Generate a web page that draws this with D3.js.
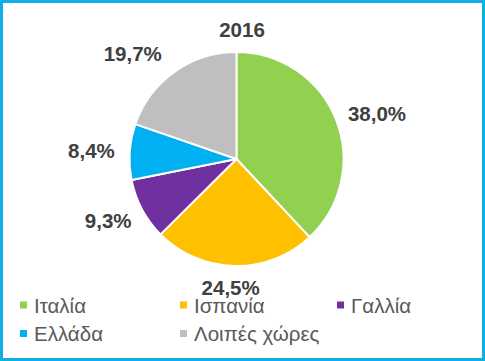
<!DOCTYPE html>
<html><head><meta charset="utf-8">
<script src="https://cdn.jsdelivr.net/npm/d3@7"></script>
<style>html,body{margin:0;padding:0;background:#fff;}svg{display:block;}</style>
</head><body>
<svg id="chart" width="485" height="361"></svg>
<script>
const title = "2016";
const categories = ["Ιταλία", "Ισπανία", "Γαλλία", "Ελλάδα", "Λοιπές χώρες"];
const values = [38.0, 24.5, 9.3, 8.4, 19.7];
const colors = ["#92D050", "#FFC000", "#7030A0", "#00B0F0", "#BFBFBF"];

const W = 485, H = 361;
const cx = 236.5, cy = 159, R = 107;
const svg = d3.select("#chart");

svg.append("rect").attr("x", 1.5).attr("y", 1.5).attr("width", W - 3).attr("height", H - 3)
  .attr("fill", "#fff").attr("stroke", "#0FAEE8").attr("stroke-width", 3);

svg.append("text").attr("x", 242).attr("y", 37).attr("text-anchor", "middle")
  .attr("font-family", "Liberation Sans, Arial, sans-serif").attr("font-weight", "bold")
  .attr("font-size", 20.5).attr("fill", "#404040").text(title);

const pie = d3.pie().sort(null).value(d => d)(values);
const arc = d3.arc().innerRadius(0).outerRadius(R);
const g = svg.append("g").attr("transform", `translate(${cx},${cy})`);
g.selectAll("path").data(pie).join("path")
  .attr("d", arc).attr("fill", (d, i) => colors[i])
  .attr("stroke", "#fff").attr("stroke-width", 2).attr("stroke-linejoin", "round");

const fmt = v => v.toFixed(1).replace(".", ",") + "%";
const r0 = 122;
const nudge = [[0, 2], [-3, -1], [0, 0], [0, 0], [-16, 0]];
const labels = g.selectAll("text.lbl").data(pie).join("text").attr("class", "lbl")
  .attr("font-family", "Liberation Sans, Arial, sans-serif").attr("font-weight", "bold")
  .attr("font-size", 20.5).attr("fill", "#404040").attr("text-anchor", "middle")
  .text(d => fmt(d.data));
labels.each(function(d, i) {
  const bb = this.getBBox();
  const a = (d.startAngle + d.endAngle) / 2;
  const s = Math.sin(a), c = -Math.cos(a);
  const x = r0 * s + s * bb.width / 2 + nudge[i][0];
  const yc = r0 * c + c * 8 + nudge[i][1];
  d3.select(this).attr("x", x).attr("y", yc + 7.5);
});

const legX = [20, 180, 337];
const legRowY = [312.5, 341];
const leg = svg.append("g");
categories.forEach((name, i) => {
  const col = i < 3 ? i : i - 3;
  const row = i < 3 ? 0 : 1;
  const x = legX[col], y = legRowY[row];
  leg.append("rect").attr("x", x).attr("y", y - 11).attr("width", 7).attr("height", 7).attr("fill", colors[i]);
  leg.append("text").attr("x", x + 14).attr("y", y)
    .attr("font-family", "Liberation Sans, Arial, sans-serif").attr("font-size", 20.5)
    .attr("fill", "#595959").text(name);
});
</script>
</body></html>
